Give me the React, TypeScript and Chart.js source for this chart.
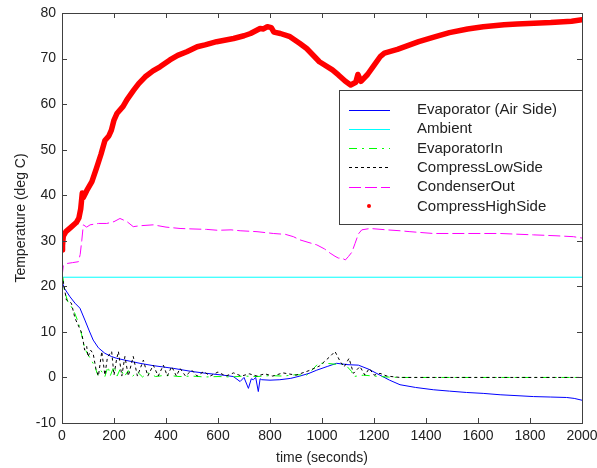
import React, { useEffect, useRef } from 'react';
import { Chart, registerables } from 'chart.js';

Chart.register(...registerables);

const seriesNames = [
  'Evaporator (Air Side)',
  'Ambient',
  'EvaporatorIn',
  'CompressLowSide',
  'CondenserOut',
  'CompressHighSide',
];

const evapTime = [0, 10, 31, 50, 69, 88, 105, 120, 140, 165, 190, 210, 250, 300, 350, 428, 500, 556, 620, 659, 685, 700, 717, 728, 736, 745, 755, 762, 768, 800, 838, 880, 915, 950, 980, 1020, 1056, 1100, 1140, 1180, 1223, 1260, 1300, 1360, 1428, 1490, 1556, 1620, 1685, 1750, 1813, 1880, 1941, 1970, 2000];
const evapTemp = [21, 19.5, 17.7, 16.3, 15.2, 12.6, 10.2, 8.2, 6.5, 5.3, 4.6, 4.2, 3.7, 3.1, 2.6, 2.0, 1.3, 0.9, 0.5, 0.2, -0.9, 0, -2.4, -0.3, -0.5, 0, -3.1, -0.3, -0.5, -0.6, -0.5, -0.2, 0.3, 0.9, 1.6, 2.4, 3.1, 2.8, 2.7, 1.8, 0.5, -0.6, -1.6, -2.2, -2.7, -3.0, -3.3, -3.5, -3.8, -4.0, -4.2, -4.3, -4.4, -4.6, -5.0];

const ambientTime = [0, 2000];
const ambientTemp = [22, 22];

const evapInTime = [0, 4, 10, 23, 36, 49, 62, 75, 87, 100, 113, 126, 138, 150, 165, 177, 186, 200, 212, 225, 240, 255, 270, 290, 310, 330, 360, 400, 450, 500, 550, 600, 650, 700, 750, 800, 850, 900, 941, 960, 986, 1018, 1050, 1069, 1095, 1114, 1121, 1159, 1200, 1250, 1300, 2000];
const evapInTemp = [22.5, 21.8, 18.8, 16.6, 15.5, 14.1, 12.2, 9.5, 6.4, 5, 3.8, 2.4, 0.5, 1.5, 0.2, 2.4, 0.4, 2.5, 0.3, 2, 0.2, 1.5, 0.2, 1.2, 0.1, 1, 0.2, 0.5, 0.2, 0.3, 0.1, 0.2, 0.1, 0.3, 0.2, 0.4, 0.3, 0.6, 0.5, 1.5, 3.1, 3.1, 2.9, 3.1, 2.5, 1.3, 0.2, 0.5, 0.3, 0.1, 0, 0];

const lowSideTime = [0, 8, 17, 36, 50, 62, 74, 81, 87, 95, 100, 110, 120, 130, 140, 153, 165, 175, 191, 200, 210, 217, 230, 242, 255, 274, 290, 313, 330, 351, 370, 390, 405, 422, 440, 454, 475, 499, 520, 545, 570, 600, 630, 660, 690, 720, 750, 780, 810, 850, 900, 950, 990, 1031, 1050, 1070, 1085, 1104, 1121, 1146, 1165, 1182, 1200, 1223, 1250, 1300, 2000];
const lowSideTemp = [22.5, 20, 17, 16.3, 13, 11.5, 10, 8.2, 6, 6.8, 4.5, 6, 5.2, 2, 0.3, 5.7, 0.5, 4.5, 5.7, 0.5, 4, 5.7, 0.3, 4.6, 0.3, 4.6, 0.3, 3.8, 0.3, 2.7, 0.3, 2.7, 0.3, 2.4, 0.3, 2.0, 0.3, 1.6, 0.3, 1.3, 0.3, 1.2, 0.3, 1.0, 0.3, 0.8, 0.3, 0.8, 0.3, 1.0, 0.5, 1.5, 2.5, 4.6, 5.7, 3.5, 2.3, 4.2, 0.9, 2.4, 0.5, 2.0, 0.5, 0.9, 0.3, 0, 0];

const condOutTime = [0, 5, 18, 40, 63, 70, 76, 82, 95, 108, 140, 172, 200, 223, 250, 274, 300, 351, 400, 454, 500, 556, 600, 650, 685, 750, 813, 860, 890, 915, 950, 980, 1010, 1031, 1050, 1063, 1076, 1090, 1101, 1115, 1127, 1140, 1153, 1185, 1249, 1300, 1338, 1428, 1556, 1685, 1813, 1900, 1967, 2000];
const condOutTemp = [22, 24.5, 25, 25.2, 25.4, 27, 30, 33.5, 33, 33.5, 33.8, 33.8, 34.2, 34.9, 34.2, 33.1, 33.3, 33.5, 33, 32.7, 32.6, 32.5, 32.3, 32.4, 32.2, 32, 31.6, 31.4, 30.9, 30.2, 29.6, 29.1, 28.2, 27.3, 26.6, 26.2, 26.2, 25.8, 26.5, 27.5, 29.4, 31.5, 32.4, 32.7, 32.4, 32.2, 32, 31.6, 31.6, 31.6, 31.3, 31.1, 30.9, 30.6];

const highSideTime = [0, 2, 5, 15, 35, 55, 65, 72, 78, 82, 95, 115, 133, 150, 165, 180, 190, 200, 212, 235, 250, 275, 295, 320, 350, 377, 415, 445, 480, 520, 550, 595, 660, 700, 725, 762, 775, 790, 805, 815, 840, 877, 915, 941, 990, 1040, 1063, 1090, 1110, 1130, 1138, 1150, 1175, 1200, 1225, 1240, 1290, 1372, 1430, 1490, 1560, 1620, 1700, 1750, 1880, 1960, 2000];
const highSideTemp = [28, 29, 31, 32, 33, 34, 35, 37, 40.5, 39.5, 41, 43, 46, 49, 52, 53, 54.3, 56.5, 58, 59.5, 61, 63, 64.5, 66, 67.3, 68.2, 69.7, 70.7, 71.5, 72.6, 73, 73.7, 74.4, 75, 75.5, 76.6, 76.5, 77, 76.8, 75.8, 75.5, 74.8, 73.3, 72.2, 69.3, 67.5, 66.4, 65, 64.2, 64.8, 66.5, 65, 66.5, 68.5, 70.5, 71.2, 72, 73.7, 74.7, 75.7, 76.5, 77, 77.4, 77.6, 77.9, 78.2, 78.5];

const xTickValues = [0, 200, 400, 600, 800, 1000, 1200, 1400, 1600, 1800, 2000];
const yTickValues = [-10, 0, 10, 20, 30, 40, 50, 60, 70, 80];

const FONT = 'Liberation Sans, Arial, sans-serif';
const AXIS_COLOR = '#404040';
const TEXT_COLOR = '#222222';

const pts = (t: number[], v: number[]) => t.map((x, i) => ({ x, y: v[i] }));

const boxPlugin = {
  id: 'matlabBox',
  afterDatasetsDraw(chart: any) {
    const { ctx, chartArea: a, scales } = chart;
    ctx.save();
    ctx.strokeStyle = AXIS_COLOR;
    ctx.lineWidth = 1;
    ctx.strokeRect(Math.round(a.left) + 0.5, Math.round(a.top) + 0.5, Math.round(a.right - a.left), Math.round(a.bottom - a.top));
    const tl = 5;
    ctx.beginPath();
    xTickValues.forEach((v) => {
      const x = Math.round(scales.x.getPixelForValue(v)) + 0.5;
      ctx.moveTo(x, a.bottom);
      ctx.lineTo(x, a.bottom - tl);
      ctx.moveTo(x, a.top);
      ctx.lineTo(x, a.top + tl);
    });
    yTickValues.forEach((v) => {
      const y = Math.round(scales.y.getPixelForValue(v)) + 0.5;
      ctx.moveTo(a.left, y);
      ctx.lineTo(a.left + tl, y);
      ctx.moveTo(a.right, y);
      ctx.lineTo(a.right - tl, y);
    });
    ctx.stroke();

    // legend
    const lw = 243;
    const lh = 134;
    const lx = Math.round(a.right) - lw;
    const ly = Math.round(a.top) + 77;
    ctx.fillStyle = '#ffffff';
    ctx.fillRect(lx, ly, lw, lh);
    ctx.strokeStyle = AXIS_COLOR;
    ctx.strokeRect(lx + 0.5, ly + 0.5, lw, lh);
    ctx.font = `15px ${FONT}`;
    ctx.textBaseline = 'middle';
    ctx.textAlign = 'left';
    chart.data.datasets.forEach((ds: any, i: number) => {
      const y = ly + 19.5 + i * 19.3;
      if (ds.showDotLegend) {
        ctx.fillStyle = ds.borderColor;
        ctx.beginPath();
        ctx.arc(lx + 30, y, 2, 0, Math.PI * 2);
        ctx.fill();
      } else {
        ctx.strokeStyle = ds.borderColor;
        ctx.lineWidth = 1;
        ctx.setLineDash(ds.borderDash || []);
        ctx.beginPath();
        ctx.moveTo(lx + 10, Math.round(y) + 0.5);
        ctx.lineTo(lx + 51, Math.round(y) + 0.5);
        ctx.stroke();
        ctx.setLineDash([]);
      }
      ctx.fillStyle = TEXT_COLOR;
      ctx.fillText(ds.label, lx + 78, y + 0.5);
    });
    ctx.restore();
  },
};

export default function App() {
  const ref = useRef<HTMLCanvasElement>(null);
  useEffect(() => {
    if (!ref.current) return;
    const mk = (i: number, t: number[], v: number[], color: string, dash: number[], width: number, extra: any = {}) => ({
      label: seriesNames[i],
      data: pts(t, v),
      borderColor: color,
      backgroundColor: color,
      borderWidth: width,
      borderDash: dash,
      pointRadius: 0,
      fill: false,
      tension: 0,
      order: 6 - i,
      ...extra,
    });
    const chart = new Chart(ref.current, {
      type: 'line',
      data: {
        datasets: [
          mk(0, evapTime, evapTemp, '#0000ff', [], 1),
          mk(1, ambientTime, ambientTemp, '#00ffff', [], 1),
          mk(2, evapInTime, evapInTemp, '#00ff00', [8, 5, 2, 5], 1),
          mk(3, lowSideTime, lowSideTemp, '#000000', [3, 3], 1),
          mk(4, condOutTime, condOutTemp, '#ff00ff', [12, 4], 1),
          mk(5, highSideTime, highSideTemp, '#ff0000', [], 5.5, { borderCapStyle: 'round', borderJoinStyle: 'round', showDotLegend: true }),
        ],
      },
      options: {
        animation: false,
        responsive: false,
        devicePixelRatio: 1,
        layout: { padding: { top: 13, right: 15, left: 0, bottom: 0 } },
        plugins: { legend: { display: false }, tooltip: { enabled: false } },
        scales: {
          x: {
            type: 'linear',
            min: 0,
            max: 2000,
            grid: { display: false, drawTicks: false },
            border: { display: false },
            afterBuildTicks: (s: any) => { s.ticks = xTickValues.map((value) => ({ value })); },
            afterFit: (s: any) => { s.height = 45; s.paddingLeft = 0; s.paddingRight = 0; },
            ticks: { color: TEXT_COLOR, font: { family: FONT, size: 14 }, padding: 5, maxRotation: 0, autoSkip: false, callback: (v: any) => String(v) },
            title: { display: true, text: 'time (seconds)', color: TEXT_COLOR, font: { family: FONT, size: 14 }, padding: { top: 0, bottom: 1 } },
          },
          y: {
            type: 'linear',
            min: -10,
            max: 80,
            grid: { display: false, drawTicks: false },
            border: { display: false },
            afterBuildTicks: (s: any) => { s.ticks = yTickValues.map((value) => ({ value })); },
            afterFit: (s: any) => { s.width = 62; s.paddingTop = 0; s.paddingBottom = 0; },
            ticks: { color: TEXT_COLOR, font: { family: FONT, size: 14 }, padding: 6, autoSkip: false, callback: (v: any) => String(v) },
            title: { display: true, text: 'Temperature (deg C)', color: TEXT_COLOR, font: { family: FONT, size: 14 }, padding: { top: 13, bottom: 0 } },
          },
        },
      } as any,
      plugins: [boxPlugin],
    });
    return () => chart.destroy();
  }, []);
  return (
    <div style={{ position: 'absolute', left: 0, top: 0, width: 597, height: 468, background: '#fff' }}>
      <canvas ref={ref} width={597} height={468} />
    </div>
  );
}
